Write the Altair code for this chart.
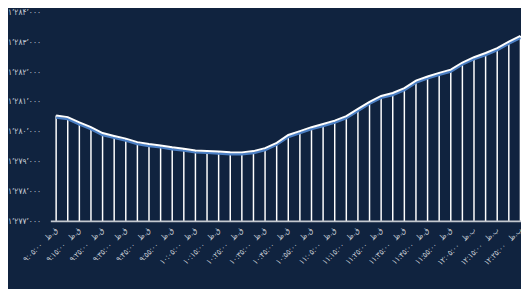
import json
import altair as alt
import pandas as pd

# time labels for every 5-minute point (Persian digits)
times = [
    "۹:۰۵:۰۰ ق.ظ", "۹:۱۰:۰۰ ق.ظ", "۹:۱۵:۰۰ ق.ظ", "۹:۲۰:۰۰ ق.ظ", "۹:۲۵:۰۰ ق.ظ",
    "۹:۳۰:۰۰ ق.ظ", "۹:۳۵:۰۰ ق.ظ", "۹:۴۰:۰۰ ق.ظ", "۹:۴۵:۰۰ ق.ظ", "۹:۵۰:۰۰ ق.ظ",
    "۹:۵۵:۰۰ ق.ظ",
    "۱۰:۰۰:۰۰ ق.ظ", "۱۰:۰۵:۰۰ ق.ظ", "۱۰:۱۰:۰۰ ق.ظ", "۱۰:۱۵:۰۰ ق.ظ", "۱۰:۲۰:۰۰ ق.ظ",
    "۱۰:۲۵:۰۰ ق.ظ", "۱۰:۳۰:۰۰ ق.ظ", "۱۰:۳۵:۰۰ ق.ظ", "۱۰:۴۰:۰۰ ق.ظ", "۱۰:۴۵:۰۰ ق.ظ",
    "۱۰:۵۰:۰۰ ق.ظ", "۱۰:۵۵:۰۰ ق.ظ",
    "۱۱:۰۰:۰۰ ق.ظ", "۱۱:۰۵:۰۰ ق.ظ", "۱۱:۱۰:۰۰ ق.ظ", "۱۱:۱۵:۰۰ ق.ظ", "۱۱:۲۰:۰۰ ق.ظ",
    "۱۱:۲۵:۰۰ ق.ظ", "۱۱:۳۰:۰۰ ق.ظ", "۱۱:۳۵:۰۰ ق.ظ", "۱۱:۴۰:۰۰ ق.ظ", "۱۱:۴۵:۰۰ ق.ظ",
    "۱۱:۵۰:۰۰ ق.ظ", "۱۱:۵۵:۰۰ ق.ظ",
    "۱۲:۰۰:۰۰ ب.ظ", "۱۲:۰۵:۰۰ ب.ظ", "۱۲:۱۰:۰۰ ب.ظ", "۱۲:۱۵:۰۰ ب.ظ", "۱۲:۲۰:۰۰ ب.ظ",
    "۱۲:۲۵:۰۰ ب.ظ",
]

values = [
    1280518, 1280462, 1280290, 1280127, 1279931, 1279834, 1279746, 1279628,
    1279563, 1279518, 1279459, 1279410, 1279352, 1279335, 1279312, 1279290,
    1279286, 1279329, 1279426, 1279606, 1279866, 1279996, 1280127, 1280234,
    1280345, 1280495, 1280736, 1280974, 1281169, 1281267, 1281430, 1281680,
    1281820, 1281941, 1282048, 1282286, 1282462, 1282602, 1282765, 1282983,
    1283172,
]

y_ticks = [1277000, 1278000, 1279000, 1280000, 1281000, 1282000, 1283000, 1284000]
y_labels = ["۱٬۲۷۷٬۰۰۰", "۱٬۲۷۸٬۰۰۰", "۱٬۲۷۹٬۰۰۰", "۱٬۲۸۰٬۰۰۰",
            "۱٬۲۸۱٬۰۰۰", "۱٬۲۸۲٬۰۰۰", "۱٬۲۸۳٬۰۰۰", "۱٬۲۸۴٬۰۰۰"]

df = pd.DataFrame({"i": list(range(len(values))), "t": times, "v": values})

shown = [t.replace(" ", "\u00a0\u00a0\u00a0") for t in times]
x_label_expr = json.dumps(shown, ensure_ascii=False) + "[datum.value]"
y_label_expr = json.dumps(y_labels, ensure_ascii=False) + "[round((datum.value-%d)/1000)]" % y_ticks[0]

FONT = "DejaVu Sans Condensed, DejaVu Sans"
LABEL = "#c6ccd5"

x_enc = alt.X(
    "i:Q",
    scale=alt.Scale(domain=[-0.5, len(values) - 0.95], nice=False, zero=False),
    axis=alt.Axis(
        values=list(range(0, len(values), 2)),
        labelExpr=x_label_expr,
        labelAngle=-45,
        labelAlign="right",
        labelBaseline="middle",
        labelFont=FONT,
        labelFontSize=8,
        labelColor=LABEL,
        labelPadding=8,
        labelOverlap=False,
        ticks=False,
        grid=False,
        domainColor="#c3c8cf",
        domainWidth=2,
        title=None,
    ),
)
y_scale = alt.Scale(domain=[y_ticks[0], y_ticks[-1]], nice=False, zero=False)
y_enc = alt.Y(
    "v:Q",
    scale=y_scale,
    axis=alt.Axis(
        values=y_ticks,
        labelExpr=y_label_expr,
        labelFont=FONT,
        labelFontSize=8.5,
        labelColor=LABEL,
        labelPadding=10,
        ticks=False,
        domain=False,
        grid=False,
        title=None,
    ),
)

base = alt.Chart(df)
rules = base.mark_rule(color="white", strokeWidth=1.5).encode(
    x=x_enc, y=y_enc, y2=alt.datum(y_ticks[0])
)
blue = base.mark_line(color="#4b7fc4", strokeWidth=2.5, yOffset=2).encode(x=x_enc, y=y_enc)
white = base.mark_line(color="white", strokeWidth=2).encode(x=x_enc, y=y_enc)

chart = (
    alt.layer(rules, blue, white)
    .properties(
        width=478,
        height=213,
        autosize=alt.AutoSizeParams(type="none"),
        padding={"left": 43, "top": 1, "right": 0, "bottom": 67},
        background="#10233f",
    )
    .configure_view(stroke=None)
)

chart.save("out.html", embed_options={"renderer": "svg", "actions": False})
